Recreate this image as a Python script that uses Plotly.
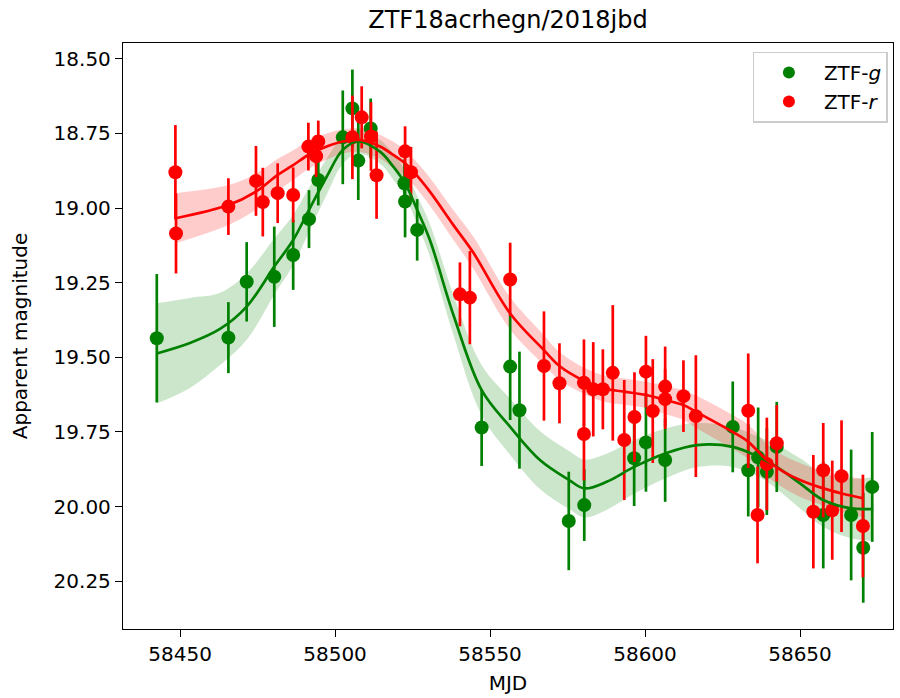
import plotly.graph_objects as go

# ---------------- data ----------------
g_mjd = [58442.5, 58465.6, 58471.5, 58480.4, 58486.5, 58491.6, 58494.6, 58502.5,
         58505.6, 58507.5, 58511.5, 58522.4, 58522.6, 58526.5, 58547.3, 58556.5,
         58559.5, 58575.4, 58580.4, 58596.5, 58600.3, 58606.5, 58628.3, 58633.3,
         58636.5, 58639.3, 58642.5, 58657.5, 58666.5, 58670.4, 58673.3]
g_mag = [19.436, 19.434, 19.247, 19.230, 19.157, 19.037, 18.906, 18.763,
         18.666, 18.841, 18.733, 18.917, 18.978, 19.073, 19.735, 19.531,
         19.677, 20.048, 19.995, 19.838, 19.785, 19.844, 19.733, 19.878,
         19.835, 19.883, 19.800, 20.028, 20.028, 20.138, 19.934]
g_err = [0.215, 0.119, 0.133, 0.168, 0.117, 0.097, 0.085, 0.157,
         0.130, 0.132, 0.100, 0.080, 0.120, 0.103, 0.129, 0.179,
         0.196, 0.165, 0.120, 0.160, 0.165, 0.140, 0.152, 0.155,
         0.167, 0.145, 0.151, 0.179, 0.219, 0.184, 0.184]

r_mjd = [58448.5, 58448.7, 58465.6, 58474.5, 58476.7, 58481.5, 58486.5, 58491.4,
         58494.6, 58493.9, 58505.6, 58508.6, 58511.6, 58513.4, 58522.6, 58524.5,
         58540.3, 58543.5, 58556.5, 58567.4, 58572.4, 58580.3, 58580.3, 58583.3,
         58586.4, 58589.6, 58593.3, 58596.6, 58600.3, 58602.5, 58606.5, 58606.5,
         58612.4, 58616.4, 58633.3, 58636.3, 58639.3, 58642.5, 58654.3, 58657.5,
         58660.4, 58663.4, 58670.3]
r_mag = [18.880, 19.085, 18.995, 18.909, 18.980, 18.950, 18.956, 18.794,
         18.777, 18.826, 18.763, 18.696, 18.760, 18.890, 18.810, 18.880,
         19.289, 19.300, 19.239, 19.529, 19.587, 19.585, 19.757, 19.607,
         19.607, 19.552, 19.777, 19.700, 19.548, 19.680, 19.598, 19.640,
         19.630, 19.697, 19.679, 20.028, 19.857, 19.788, 20.017, 19.878,
         20.012, 19.898, 20.065]
r_err = [0.158, 0.134, 0.095, 0.117, 0.115, 0.100, 0.092, 0.080,
         0.070, 0.070, 0.140, 0.104, 0.115, 0.146, 0.084, 0.085,
         0.107, 0.156, 0.123, 0.183, 0.134, 0.145, 0.155, 0.158,
         0.134, 0.227, 0.201, 0.150, 0.120, 0.174, 0.134, 0.100,
         0.120, 0.204, 0.192, 0.162, 0.155, 0.128, 0.190, 0.158,
         0.166, 0.187, 0.172]

# GP fit curves and band half-widths
gfit_mjd = [58442.5, 58453.2, 58462.9, 58471.5, 58480.4, 58486.5, 58491.6, 58497.3,
            58502.5, 58507.5, 58514.5, 58518.8, 58522.6, 58526.5, 58530.6, 58538.2,
            58547.3, 58556.5, 58566.1, 58575.5, 58580.4, 58587.6, 58596.5, 58606.5,
            58616.7, 58628.3, 58636.5, 58642.5, 58650.0, 58657.5, 58666.5, 58673.6]
gfit_mag = [19.487, 19.452, 19.405, 19.330, 19.196, 19.107, 19.006, 18.895,
            18.805, 18.777, 18.811, 18.861, 18.917, 19.006, 19.107, 19.358,
            19.610, 19.733, 19.844, 19.911, 19.939, 19.917, 19.867, 19.822,
            19.794, 19.800, 19.833, 19.867, 19.922, 19.978, 20.006, 20.008]
gfit_sig = [0.168, 0.151, 0.121, 0.111, 0.094, 0.084, 0.074, 0.060,
            0.047, 0.040, 0.040, 0.044, 0.044, 0.047, 0.054, 0.067,
            0.084, 0.094, 0.097, 0.097, 0.097, 0.094, 0.090, 0.084,
            0.074, 0.067, 0.067, 0.074, 0.084, 0.090, 0.100, 0.107]

rfit_mjd = [58448.6, 58465.6, 58474.5, 58481.5, 58486.5, 58491.4, 58497.3, 58502.5,
            58508.1, 58514.5, 58518.8, 58522.6, 58525.3, 58530.6, 58538.2, 58544.6,
            58556.5, 58567.4, 58572.4, 58580.4, 58586.5, 58593.3, 58600.3, 58606.5,
            58612.4, 58616.4, 58628.3, 58633.3, 58639.3, 58644.6, 58650.0, 58657.5,
            58663.5, 58670.3]
rfit_mag = [19.034, 18.990, 18.945, 18.889, 18.856, 18.822, 18.794, 18.777,
            18.772, 18.794, 18.822, 18.850, 18.878, 18.945, 19.057, 19.149,
            19.353, 19.476, 19.529, 19.579, 19.604, 19.615, 19.626, 19.643,
            19.660, 19.682, 19.750, 19.783, 19.844, 19.883, 19.911, 19.939,
            19.956, 19.972]
rfit_sig = [0.084, 0.067, 0.060, 0.054, 0.050, 0.047, 0.044, 0.040,
            0.040, 0.040, 0.044, 0.044, 0.044, 0.047, 0.050, 0.054,
            0.054, 0.050, 0.047, 0.044, 0.044, 0.044, 0.044, 0.047,
            0.050, 0.054, 0.057, 0.057, 0.054, 0.054, 0.057, 0.057,
            0.060, 0.064]

x_ticks = [58450, 58500, 58550, 58600, 58650]
y_ticks = [18.50, 18.75, 19.00, 19.25, 19.50, 19.75, 20.00, 20.25]

GREEN = "#008000"
RED = "#ff0000"
FONT = "DejaVu Sans"

fig = go.Figure()


def add_band(x, m, s, rgba):
    up = [a - b for a, b in zip(m, s)]
    lo = [a + b for a, b in zip(m, s)]
    fig.add_trace(go.Scatter(x=x, y=up, mode="lines", line=dict(width=0, shape="spline"),
                             showlegend=False, hoverinfo="skip"))
    fig.add_trace(go.Scatter(x=x, y=lo, mode="lines", line=dict(width=0, shape="spline"),
                             fill="tonexty", fillcolor=rgba, showlegend=False, hoverinfo="skip"))


add_band(gfit_mjd, gfit_mag, gfit_sig, "rgba(0,128,0,0.2)")
add_band(rfit_mjd, rfit_mag, rfit_sig, "rgba(255,0,0,0.2)")

fig.add_trace(go.Scatter(x=g_mjd, y=g_mag, mode="markers", name="ZTF-<i>g</i>",
                         marker=dict(color=GREEN, size=14, line=dict(width=0)),
                         error_y=dict(type="data", array=g_err, color=GREEN, thickness=2.7, width=0)))
fig.add_trace(go.Scatter(x=r_mjd, y=r_mag, mode="markers", name="ZTF-<i>r</i>",
                         marker=dict(color=RED, size=14, line=dict(width=0)),
                         error_y=dict(type="data", array=r_err, color=RED, thickness=2.7, width=0)))

fig.add_trace(go.Scatter(x=gfit_mjd, y=gfit_mag, mode="lines",
                         line=dict(color=GREEN, width=2.7, shape="spline"),
                         showlegend=False, hoverinfo="skip"))
fig.add_trace(go.Scatter(x=rfit_mjd, y=rfit_mag, mode="lines",
                         line=dict(color=RED, width=2.7, shape="spline"),
                         showlegend=False, hoverinfo="skip"))

axis_common = dict(showgrid=False, zeroline=False, showline=True, linecolor="black",
                   linewidth=1.3, mirror=True, ticks="outside", ticklen=7, tickwidth=1.3,
                   tickcolor="black", tickfont=dict(family=FONT, size=20, color="black"))

fig.update_layout(
    width=900, height=698,
    margin=dict(l=123, r=7, t=43, b=69),
    paper_bgcolor="white", plot_bgcolor="white",
    font=dict(family=FONT, size=20, color="black"),
    title=dict(text="ZTF18acrhegn/2018jbd", x=0.5, xref="paper", xanchor="center",
               y=1 - 20 / 698, yref="container", yanchor="middle",
               font=dict(family=FONT, size=24, color="black")),
    xaxis=dict(range=[58431.6, 58680.0], tickvals=x_ticks,
               ticktext=[str(v) for v in x_ticks],
               title=dict(text="MJD", font=dict(family=FONT, size=20), standoff=10),
               **axis_common),
    yaxis=dict(range=[20.41, 18.447], tickvals=y_ticks,
               ticktext=["%.2f" % v for v in y_ticks],
               title=dict(text="Apparent magnitude", font=dict(family=FONT, size=20), standoff=20),
               **axis_common),
    legend=dict(x=0.993, y=0.985, xanchor="right", yanchor="top", traceorder="normal",
                bgcolor="rgba(255,255,255,0.8)", bordercolor="#cccccc", borderwidth=1.3,
                font=dict(family=FONT, size=20, color="black"),
                itemsizing="constant", itemwidth=60, tracegroupgap=4),
    showlegend=True,
)

fig.write_html("out.html")
